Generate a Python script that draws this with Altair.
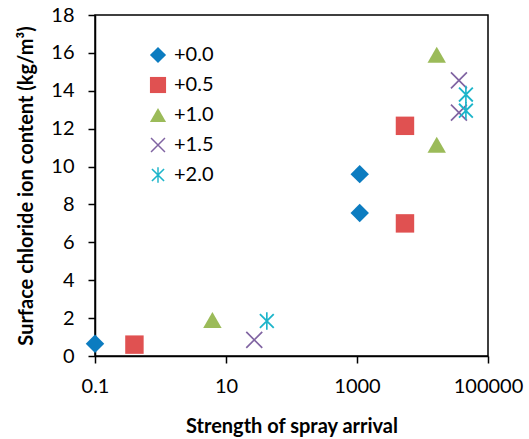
import altair as alt
import pandas as pd

# Series labels (offsets) and their measured points
series = ["+0.0", "+0.5", "+1.0", "+1.5", "+2.0"]
x_p00 = [0.1, 1100, 1100]
y_p00 = [0.65, 9.6, 7.55]
x_p05 = [0.4, 5400, 5400]
y_p05 = [0.6, 12.15, 7.0]
x_p10 = [6.2, 16500, 16500]
y_p10 = [1.9, 15.9, 11.15]
x_p15 = [27, 36000, 36000]
y_p15 = [0.85, 14.55, 12.85]
x_p20 = [42, 46000, 46000]
y_p20 = [1.85, 13.8, 12.95]

x_ticks = [0.1, 10, 1000, 100000]
y_ticks = [0, 2, 4, 6, 8, 10, 12, 14, 16, 18]

colors = ["#0C7CC0", "#E05151", "#9BBB59", "#8064A2", "#1DB5CA"]

# Cross and asterisk drawn as thin filled polygons so every symbol is filled
x_shape = ("M-0.8,-0.93L0.93,0.8L0.8,0.93L-0.93,-0.8Z"
           "M-0.8,0.93L-0.93,0.8L0.8,-0.93L0.93,-0.8Z")
star_shape = ("M-0.68,-0.82L0.82,0.68L0.68,0.82L-0.82,-0.68Z"
              "M-0.68,0.82L-0.82,0.68L0.68,-0.82L0.82,-0.68Z"
              "M-0.09,-0.95L0.09,-0.95L0.09,0.95L-0.09,0.95Z")
shapes = ["diamond", "square", "triangle-up", x_shape, star_shape]

xs = [x_p00, x_p05, x_p10, x_p15, x_p20]
ys = [y_p00, y_p05, y_p10, y_p15, y_p20]
rows = []
for name, xv, yv in zip(series, xs, ys):
    for a, b in zip(xv, yv):
        rows.append({"series": name, "strength": a, "chloride": b})
df = pd.DataFrame(rows)

FONT = "Lato"

chart = alt.Chart(df).mark_point(filled=True, opacity=1, size=340).encode(
    x=alt.X(
        "strength:Q",
        scale=alt.Scale(type="log", domain=[0.1, 100000], nice=False),
        axis=alt.Axis(values=x_ticks, format="~g", title="Strength of spray arrival",
                      grid=False, labelFlush=False, labelPadding=13, titlePadding=20),
    ),
    y=alt.Y(
        "chloride:Q",
        scale=alt.Scale(domain=[0, 18], nice=False),
        axis=alt.Axis(values=y_ticks, title="Surface chloride ion content (kg/m³)",
                      grid=False, labelFlush=False, labelPadding=14, titlePadding=14),
    ),
    color=alt.Color(
        "series:N",
        scale=alt.Scale(domain=series, range=colors),
        legend=alt.Legend(
            title=None, orient="none", legendX=53, legendY=30,
            symbolSize=260, labelFontSize=20, labelFont=FONT, labelColor="black",
            labelOffset=6, rowPadding=10, padding=0, symbolStrokeWidth=0,
        ),
    ),
    shape=alt.Shape(
        "series:N",
        scale=alt.Scale(domain=series, range=shapes),
    ),
).properties(
    width=393,
    height=341,
    background="white",
    autosize=alt.AutoSizeParams(type="none"),
    padding={"left": 95, "top": 15, "right": 41, "bottom": 83},
).configure_view(
    stroke="black", strokeWidth=1.5
).configure_axis(
    domainColor="black", domainWidth=1.5, tickColor="black", tickWidth=1.5,
    tickSize=7, labelFont=FONT, labelFontSize=20, labelColor="black",
    titleFont=FONT, titleFontSize=20, titleFontWeight="bold", titleColor="black",
)

chart.save("out.html", embed_options={"renderer": "svg", "actions": False})
